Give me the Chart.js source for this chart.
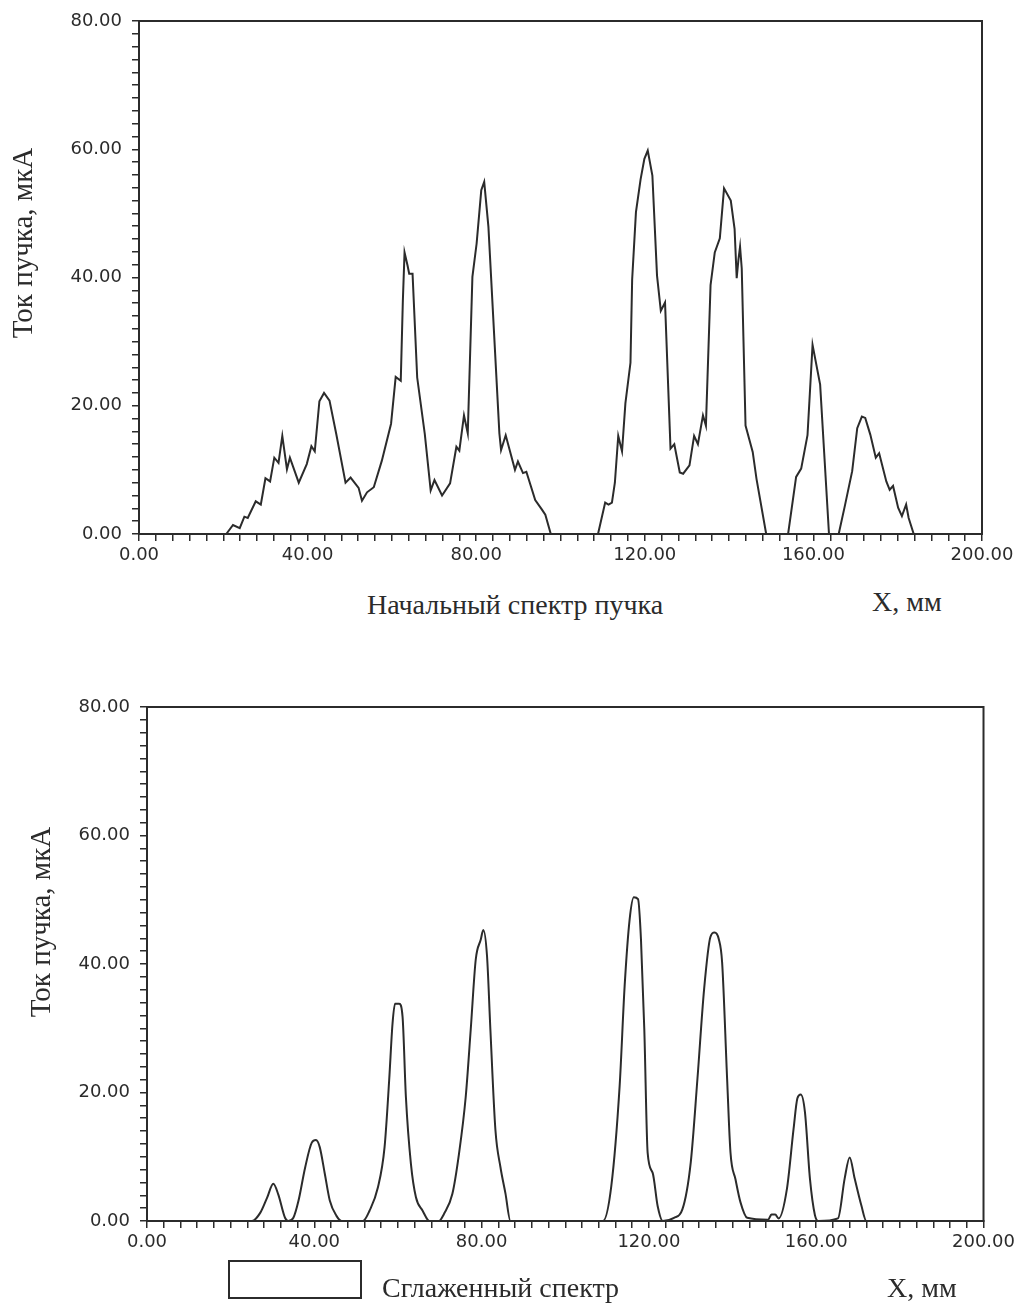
<!DOCTYPE html>
<html>
<head>
<meta charset="utf-8">
<script src="https://cdn.jsdelivr.net/npm/chart.js@4.4.1/dist/chart.umd.min.js"></script>
<style>
  html, body { margin: 0; padding: 0; background: #fff; }
  body { width: 1019px; height: 1304px; position: relative; overflow: hidden;
         font-family: "Liberation Serif", serif; color: #2b2b2b; }
  .plot { position: absolute; left: 0; width: 1019px; height: 580px; }
  .txt { position: absolute; font-size: 28px; line-height: 28px; white-space: nowrap; }
  .ytitle { position: absolute; width: 300px; height: 30px; line-height: 30px; font-size: 29px;
            text-align: center; white-space: nowrap; transform: rotate(-90deg); }
  .legend-box { position: absolute; left: 228px; top: 1260px; width: 130px; height: 35px;
                border: 2px solid #2b2b2b; }
</style>
</head>
<body>
<div class="plot" style="top:0"><canvas id="raw-chart"></canvas></div>
<div class="plot" style="top:686px"><canvas id="smooth-chart"></canvas></div>

<div class="ytitle" style="left:-128px; top:228px">Ток пучка, мкА</div>
<div class="txt" style="left:367px; top:591px">Начальный спектр пучка</div>
<div class="txt" style="left:872px; top:588px">X, мм</div>

<div class="ytitle" style="left:-110px; top:907px">Ток пучка, мкА</div>
<div class="legend-box"></div>
<div class="txt" style="left:382px; top:1274px">Сглаженный спектр</div>
<div class="txt" style="left:887px; top:1274px">X, мм</div>

<script>
// initial beam spectrum (X, mm / current, uA)
const rawX = [0, 20.7, 22.3, 23.9, 25.0, 25.8, 27.7, 28.9, 30.0, 31.1, 32.1, 33.1, 34.0, 35.1, 35.8,
  37.9, 39.8, 40.9, 41.7, 42.8, 43.9, 45.2, 46.8, 49.0, 50.2, 52.1, 52.9, 54.1, 55.7, 57.6, 59.8,
  60.9, 62.1, 62.6, 63.0, 63.7, 64.1, 64.9, 66.0, 67.8, 69.2, 70.1, 71.9, 73.8, 75.3, 76.0, 77.1,
  78.0, 79.1, 80.1, 81.2, 81.9, 82.9, 85.5, 85.9, 87.0, 89.2, 89.9, 91.1, 91.9, 94.0, 95.6, 96.4,
  97.7, 108.9, 110.6, 111.4, 112.2, 112.9, 113.7, 114.6, 115.4, 116.6, 117.0, 117.9, 119.0, 119.9,
  120.7, 121.8, 122.9, 123.8, 124.8, 126.1, 127.0, 128.3, 129.1, 130.6, 131.7, 132.6, 133.8, 134.5,
  135.6, 136.6, 137.8, 138.8, 140.4, 141.3, 141.8, 142.2, 142.6, 143.0, 143.9, 145.6, 146.5, 148.8,
  154.0, 155.9, 157.1, 158.6, 159.8, 161.6, 163.7, 166.0, 167.5, 169.2, 170.4, 171.5, 172.3, 173.5,
  174.8, 175.6, 177.3, 178.1, 178.9, 180.1, 181.0, 182.0, 182.6, 183.8, 200];
const rawY = [0, 0, 1.4, 0.9, 2.7, 2.5, 5.1, 4.6, 8.7, 8.2, 11.9, 11.1, 15.3, 10.1, 11.9,
  8.0, 10.9, 13.7, 12.9, 20.7, 22.0, 20.8, 15.6, 8.0, 8.8, 7.2, 5.2, 6.5, 7.3, 11.4, 17.2,
  24.5, 23.9, 36.4, 43.9, 41.9, 40.6, 40.6, 24.4, 15.6, 6.8, 8.4, 6.0, 7.9, 13.6, 13.0, 18.5,
  15.7, 40.1, 45.3, 53.6, 54.9, 47.9, 15.7, 13.1, 15.4, 10.0, 11.3, 9.5, 9.7, 5.3, 3.8, 3.0,
  0, 0, 4.9, 4.6, 4.9, 8.0, 15.3, 12.9, 20.4, 26.7, 39.7, 50.2, 55.3, 58.5,
  59.8, 55.9, 40.3, 34.8, 36.1, 13.3, 14.0, 9.6, 9.4, 10.7, 15.3, 14.0, 18.5, 16.9,
  38.8, 43.9, 46.1, 53.9, 52.0, 47.6, 39.9, 42.7, 44.8, 41.4, 16.9, 12.8, 8.6, 0,
  0, 8.9, 10.2, 15.4, 29.5, 23.3, 0, 0, 4.5, 9.8, 16.5, 18.3, 18.1, 15.5,
  11.9, 12.6, 8.2, 6.9, 7.5, 4.1, 2.8, 4.6, 2.5, 0, 0];

// smoothed spectrum
const smoothX = [0, 25.1, 27.1, 28.7, 30.2, 31.4, 33.0, 33.8, 35.0, 36.2, 37.8, 39.4, 40.4, 41.3,
  42.5, 43.7, 45.3, 46.5, 51.6, 53.2, 55.2, 56.8, 57.9, 58.7, 59.3, 60.3, 61.1, 61.9, 63.1, 64.3,
  65.9, 67.5, 69.8, 71.0, 73.0, 74.6, 76.2, 77.4, 78.6, 79.8, 80.4, 81.3, 82.1, 83.3, 84.5, 85.7,
  86.9, 109.0, 111.0, 113.0, 114.2, 115.4, 116.4, 117.4, 118.1, 118.9, 119.7, 120.9, 122.1, 123.3,
  126.0, 128.0, 130.0, 131.6, 133.2, 134.7, 135.7, 136.7, 137.5, 138.7, 139.5, 140.7, 141.9, 143.5,
  148.5, 149.3, 150.2, 151.0, 153.0, 154.6, 155.5, 156.3, 157.3, 158.5, 159.7, 160.5, 165.2, 166.8,
  168.0, 169.2, 170.8, 172.0, 200];
const smoothY = [0, 0, 1.3, 3.6, 5.8, 4.1, 0.5, 0, 0.5, 3.1, 8.3, 12.2, 12.6, 11.5,
  7.4, 3.2, 0.8, 0, 0, 1.6, 5.2, 11.5, 21.9, 30.7, 33.8, 33.8, 31.8, 19.3, 8.9, 3.7,
  1.6, 0, 0, 1.1, 4.2, 10.5, 19.3, 29.8, 40.7, 43.8, 45.3, 41.2, 29.8, 14.2, 8.4, 4.3,
  0, 0, 5.4, 21.0, 36.6, 47.0, 50.4, 50.1, 43.9, 29.8, 10.6, 7.5, 2.3, 0,
  0.5, 1.8, 9.1, 22.1, 36.1, 44.2, 44.9, 43.9, 40.3, 22.1, 10.7, 6.5, 2.9, 0.5,
  0.2, 1.0, 1.0, 0.4, 5.0, 14.4, 19.1, 19.7, 17.0, 6.6, 0.9, 0, 0.4, 6.6,
  9.9, 6.6, 2.4, 0, 0];

const xMajorTicks = [0, 40, 80, 120, 160, 200];
const yMajorTicks = [0, 20, 40, 60, 80];

const ink = '#2b2b2b';

const frameBox = {
  id: 'frameBox',
  afterDraw(chart) {
    const { ctx, chartArea } = chart;
    ctx.save();
    ctx.strokeStyle = ink;
    ctx.lineWidth = 2;
    ctx.strokeRect(chartArea.left, chartArea.top,
      chartArea.right - chartArea.left, chartArea.bottom - chartArea.top);
    ctx.restore();
  }
};

function axisOptions(min, max, step, majors, extra) {
  return Object.assign({
    type: 'linear',
    min: min,
    max: max,
    grid: { display: true, drawOnChartArea: false, drawTicks: true, tickLength: 7, color: ink, lineWidth: 1.5 },
    border: { display: true, color: ink, width: 2 },
    ticks: {
      stepSize: step,
      autoSkip: false,
      maxRotation: 0,
      color: ink,
      font: { family: 'DejaVu Sans', size: 18 },
      callback: (v) => majors.includes(v) ? v.toFixed(2) : ''
    }
  }, extra);
}

function initializeChart(canvasId, xs, ys, padding, smooth) {
  const points = xs.map((x, i) => ({ x: x, y: ys[i] }));
  const x = axisOptions(0, 200, 4, xMajorTicks, { afterFit: (axis) => { axis.height = 40; } });
  x.ticks.padding = 4;
  const y = axisOptions(0, 80, 2, yMajorTicks, { afterFit: (axis) => { axis.width = 100; } });
  y.ticks.padding = 10;

  new Chart(document.getElementById(canvasId), {
    type: 'line',
    data: {
      datasets: [{
        data: points,
        borderColor: ink,
        borderWidth: 2,
        pointRadius: 0,
        fill: false,
        tension: 0,
        cubicInterpolationMode: smooth ? 'monotone' : 'default'
      }]
    },
    options: {
      responsive: true,
      maintainAspectRatio: false,
      animation: false,
      layout: { padding: padding },
      plugins: { legend: { display: false }, tooltip: { enabled: false } },
      scales: { x: x, y: y }
    },
    plugins: [frameBox]
  });
}

initializeChart('raw-chart', rawX, rawY, { left: 39, right: 37, top: 21, bottom: 6 }, false);
initializeChart('smooth-chart', smoothX, smoothY, { left: 47, right: 30, top: 21, bottom: 5 }, true);
</script>
</body>
</html>
